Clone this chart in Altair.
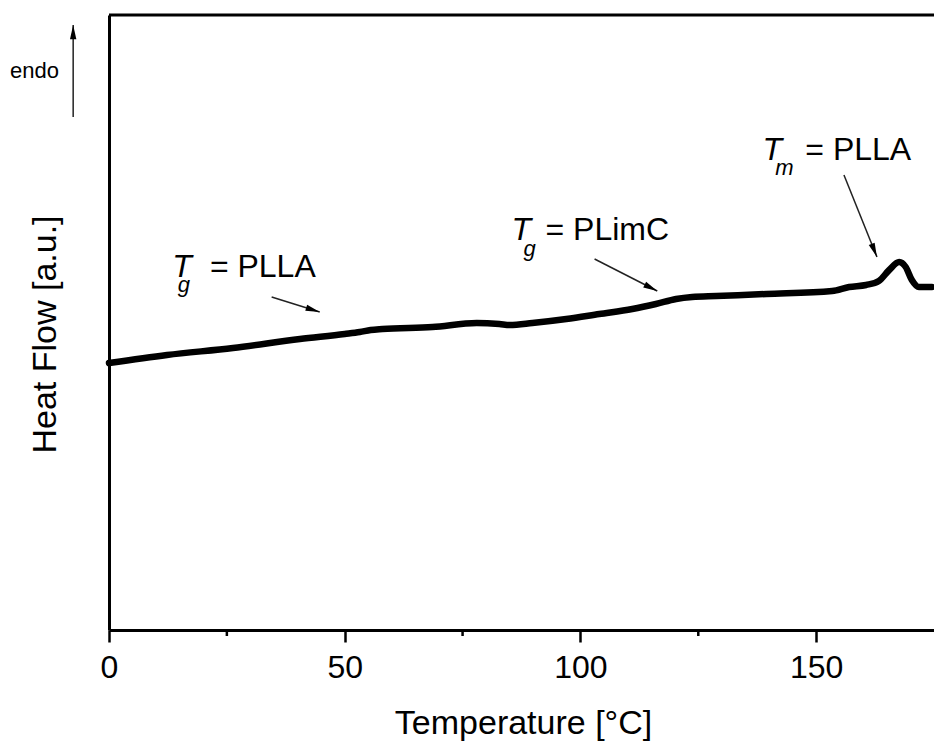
import math
import altair as alt
import pandas as pd

# ---- data -------------------------------------------------------------
temps = [0, 12.3, 26.3, 40.5, 50, 53.2, 55.5, 58, 68.6, 78, 82.8, 85, 89.8, 97,
         104, 111, 116, 120.3, 123.7, 128.8, 139.4, 153.4, 157, 160.6, 163.3,
         165.5, 167.6, 169, 170.3, 171.8, 174.6]
heat_flow = [267, 275, 282, 291, 296, 298, 300, 301, 303, 307, 306, 305, 307, 311,
             316, 321, 326, 331, 333, 334, 336, 339, 343, 345, 349,
             360, 368, 363, 350, 343, 343]

x_ticks = [0, 50, 100, 150]
x_minor = [25, 75, 125]

# annotation labels: symbol (italic), subscript, rest of text
lab_sym = ["T", "T", "T"]
lab_sub = ["g", "g", "m"]
lab_rest = ["= PLLA", "= PLimC", "= PLLA"]
lab_sym_x = [13.4, 85.4, 138.6]
lab_sub_x = [14.6, 87.9, 141.3]
lab_rest_x = [21.4, 92.6, 147.7]
lab_y = [353, 390, 470]
lab_sub_y = [338, 374, 455]

# arrows (start -> end, data units)
arr_x1 = [34.5, 103.0, 155.9]
arr_y1 = [333, 371, 455]
arr_x2 = [44.7, 116.3, 162.9]
arr_y2 = [318, 339, 373]

# "endo" marker outside the plot
endo_x = [-7.6]
endo_y1 = [513]
endo_y2 = [605]
endo_text_x = [-21.0]
endo_text_y = [552]

# ---- layout -------------------------------------------------------------
X_MAX = 175
Y_MAX = 615
W = 825
H = 615
FONT = "Arial, Liberation Sans, Helvetica, sans-serif"
XT = "Temperature [°C]"
YT = "Heat Flow [a.u.]"
pxx = W / X_MAX
pxy = H / Y_MAX

xscale = alt.Scale(domain=[0, X_MAX], nice=False, zero=False)
yscale = alt.Scale(domain=[0, Y_MAX], nice=False, zero=False)

curve = pd.DataFrame({"T": temps, "HF": heat_flow})

line = alt.Chart(curve).mark_line(
    color="black", strokeWidth=6.5, interpolate="monotone",
    strokeCap="round", strokeJoin="round"
).encode(
    x=alt.X("T:Q", scale=xscale, title=XT,
            axis=alt.Axis(values=x_ticks, format="d", grid=False,
                          domainColor="black", domainWidth=3,
                          tickColor="black", tickWidth=2.5, tickSize=12,
                          labelFont=FONT, labelFontSize=32, labelColor="black",
                          labelPadding=10, labelFlush=False,
                          titleFont=FONT, titleFontSize=34, titleFontWeight="normal",
                          titleColor="black", titleBaseline="alphabetic",
                          titleX=414, titleY=103)),
    y=alt.Y("HF:Q", scale=yscale, title=YT,
            axis=alt.Axis(labels=False, ticks=False, grid=False,
                          domainColor="black", domainWidth=3,
                          titleFont=FONT, titleFontSize=34, titleFontWeight="normal",
                          titleColor="black", titleBaseline="alphabetic",
                          titleAngle=270, titleAlign="center",
                          titleX=-54, titleY=319)),
)


def X(field):
    return alt.X(field, type="quantitative", scale=xscale, title=XT)


def Y(field):
    return alt.Y(field, type="quantitative", scale=yscale, title=YT)


minor_df = pd.DataFrame({"T": x_minor})
minor = alt.Chart(minor_df).mark_rule(color="black", strokeWidth=2.5).encode(
    x=X("T"),
    y=alt.value(H), y2=alt.value(H + 6),
)

top_frame = alt.Chart(minor_df.head(1)).mark_rule(color="black", strokeWidth=3).encode(
    x=alt.value(0), x2=alt.value(W), y=alt.value(0)
)

labels = pd.DataFrame({
    "sym": lab_sym, "sub": lab_sub, "rest": lab_rest,
    "sx": lab_sym_x, "bx": lab_sub_x, "rx": lab_rest_x,
    "y": lab_y, "by": lab_sub_y,
})

sym_text = alt.Chart(labels).mark_text(
    align="left", baseline="alphabetic", font=FONT, fontSize=32,
    fontStyle="italic", color="black"
).encode(x=X("sx"), y=Y("y"), text="sym:N")

sub_text = alt.Chart(labels).mark_text(
    align="left", baseline="alphabetic", font=FONT, fontSize=22,
    fontStyle="italic", color="black"
).encode(x=X("bx"), y=Y("by"), text="sub:N")

rest_text = alt.Chart(labels).mark_text(
    align="left", baseline="alphabetic", font=FONT, fontSize=32, color="black"
).encode(x=X("rx"), y=Y("y"), text="rest:N")


def head_angle(x1, y1, x2, y2):
    dx = (x2 - x1) * pxx
    dy = -(y2 - y1) * pxy
    return math.degrees(math.atan2(dx, -dy)) % 360


arrows = pd.DataFrame({
    "x1": arr_x1 + endo_x, "y1": arr_y1 + endo_y1,
    "x2": arr_x2 + endo_x, "y2": arr_y2 + endo_y2,
})
arrows["ang"] = [head_angle(a, b, c, d) for a, b, c, d in
                 zip(arrows.x1, arrows.y1, arrows.x2, arrows.y2)]

shafts = alt.Chart(arrows).mark_rule(color="#222222", strokeWidth=1.5).encode(
    x=X("x1"), y=Y("y1"), x2="x2:Q", y2="y2:Q",
)

HEAD = "M0,0L-0.45,2L0.45,2Z"
heads = alt.Chart(arrows).mark_point(
    shape=HEAD, filled=True, size=200, color="black", opacity=1, strokeWidth=0
).encode(
    x=X("x2"), y=Y("y2"),
    angle=alt.Angle("ang:Q", scale=None),
)

endo_df = pd.DataFrame({"x": endo_text_x, "y": endo_text_y, "t": ["endo"]})
endo_text = alt.Chart(endo_df).mark_text(
    align="left", baseline="alphabetic", font=FONT, fontSize=22, color="black"
).encode(x=X("x"), y=Y("y"), text="t:N")

chart = alt.layer(
    line, minor, top_frame, shafts, heads, sym_text, sub_text, rest_text, endo_text
).properties(
    width=W, height=H,
    autosize=alt.AutoSizeParams(type="none"),
    padding={"left": 109, "top": 15, "right": 0, "bottom": 114},
    background="white",
).configure_view(stroke=None)

chart.save("out.html", embed_options={"renderer": "svg", "actions": False})
